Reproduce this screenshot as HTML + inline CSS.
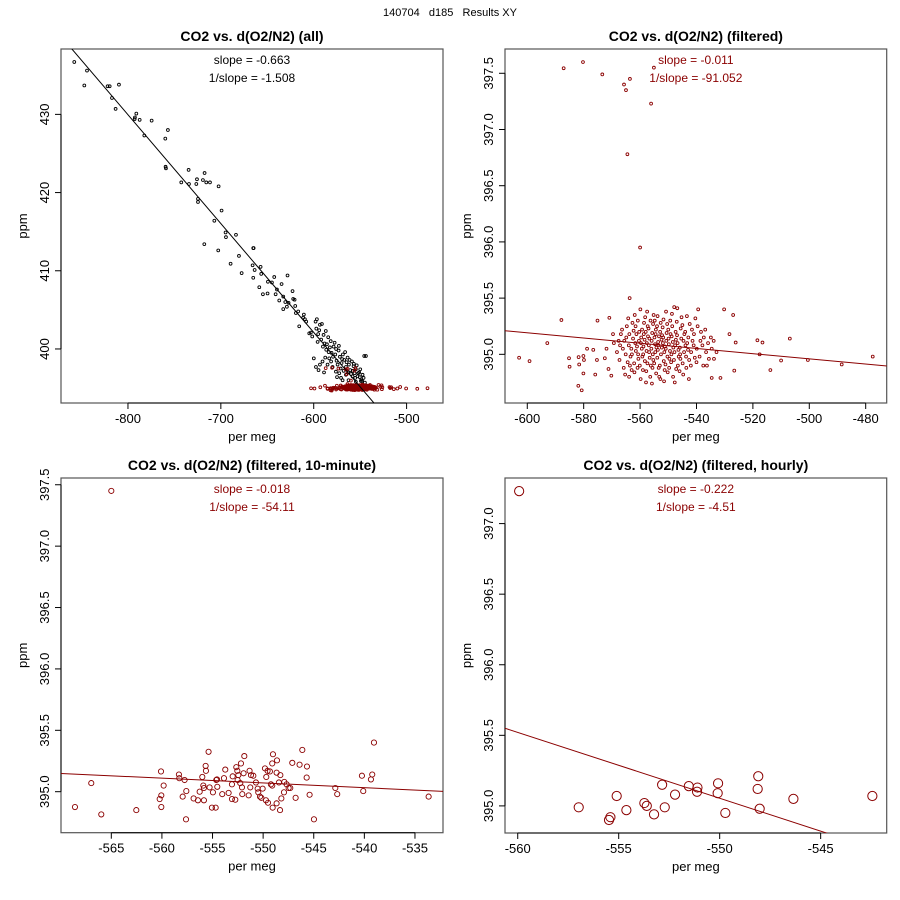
<!DOCTYPE html>
<html><head><meta charset="utf-8"><style>
body{margin:0;background:#fff}
svg{display:block;font-family:"Liberation Sans",sans-serif}
</style></head><body>
<svg id="c" width="900" height="900" viewBox="0 0 900 900">
<text x="450" y="16" text-anchor="middle" font-size="11" style="white-space:pre">140704   d185   Results XY</text>
</svg>
<script>
// ---------- data ----------
const filteredPts = [
[-587.1,397.545],[-580.25,397.6],[-573.4,397.49],[-565.7,397.40],[-565.0,397.35],[-563.6,397.45],[-555.1,397.55],[-556.1,397.23],[-564.5,396.78],[-560.0,395.95],[-563.7,395.5],
[-602.9,394.97],[-599.2,394.94],[-592.9,395.10],[-587.9,395.305],[-585.2,394.965],[-585.0,394.89],[-581.9,394.72],[-580.7,394.68],[-581.8,394.975],[-581.6,394.91],[-580.1,394.985],[-579.9,394.95],[-580.1,394.83],[-578.8,395.05],[-576.6,395.04],[-575.9,394.82],[-575.1,395.30],[-575.3,394.95],[-570.9,395.325],[-572.5,394.965],[-571.9,395.05],[-571.2,394.87],[-570.2,394.81],[-569.6,395.18],[-569.3,395.10],
[-530.2,395.40],[-527.0,395.35],[-528.3,395.18],[-526.6,394.855],[-526.1,395.105],[-518.4,395.125],[-517.6,395.0],[-516.6,395.105],[-513.8,394.86],[-510.0,394.945],[-506.9,395.14],[-500.5,394.95],[-488.5,394.91],[-477.5,394.98],[-531.5,394.79],[-534.6,394.79],[-536.3,394.9],[-533.8,394.96],
[-568.2,395.02],[-567.6,395.12],[-567.3,394.95],[-566.8,395.18],[-567.1,395.08],
[-566.4,395.22],[-565.8,394.88],[-566.1,395.05],[-565.6,395.12],
[-565.3,394.82],[-564.7,395.25],[-565.1,395.0],[-564.9,395.15],[-564.4,394.93],
[-564.2,395.32],[-563.6,394.9],[-564.0,395.08],[-563.8,395.18],[-563.4,394.98],[-563.9,394.8],
[-563.1,395.05],[-562.7,395.28],[-563.0,394.86],[-562.5,395.14],[-562.9,395.0],[-562.3,395.21],
[-562.1,394.92],[-561.7,395.1],[-561.9,395.35],[-561.5,395.03],[-562.0,394.84],[-561.3,395.18],[-561.6,395.25],
[-561.1,395.07],[-560.6,394.96],[-560.8,395.3],[-560.4,395.12],[-560.9,394.88],[-560.3,395.2],[-560.7,395.0],
[-559.9,395.4],[-559.6,395.15],[-560.1,394.9],[-559.4,395.05],[-559.8,394.78],[-559.3,395.22],[-559.7,395.1],[-559.2,394.98],
[-558.9,395.0],[-558.6,395.28],[-559.0,394.86],[-558.4,395.13],[-558.7,395.18],[-558.3,394.94],[-558.8,395.07],[-558.2,395.33],
[-557.9,394.75],[-557.6,395.1],[-558.0,395.2],[-557.4,394.92],[-557.7,395.03],[-557.3,395.25],[-557.8,394.85],[-557.2,395.16],[-557.5,395.38],
[-556.9,395.08],[-556.6,394.97],[-557.0,395.23],[-556.4,394.8],[-556.7,395.14],[-556.3,395.3],[-556.8,395.02],[-556.2,394.9],
[-555.9,395.12],[-555.6,394.88],[-556.0,395.05],[-555.4,395.27],[-555.7,395.19],[-555.3,394.95],[-555.8,394.74],[-555.2,395.35],[-555.5,395.0],
[-554.9,395.15],[-554.6,395.02],[-555.0,394.92],[-554.4,395.22],[-554.7,395.09],[-554.3,394.83],[-554.8,395.3],[-554.2,395.06],[-554.5,395.18],
[-553.9,394.97],[-553.6,395.11],[-554.0,395.25],[-553.4,394.88],[-553.7,395.04],[-553.3,395.16],[-553.8,395.34],[-553.2,394.8],[-553.5,395.08],
[-552.9,395.2],[-552.6,395.0],[-553.0,394.9],[-552.4,395.13],[-552.7,395.28],[-552.3,395.06],[-552.8,394.78],[-552.2,395.17],
[-551.9,395.1],[-551.6,394.94],[-552.0,395.24],[-551.4,395.02],[-551.7,395.31],[-551.3,394.86],[-551.8,395.15],[-551.2,395.07],[-551.5,394.76],
[-550.9,395.05],[-550.6,395.19],[-551.0,394.91],[-550.4,395.27],[-550.7,395.12],[-550.3,394.98],[-550.8,395.38],[-550.2,394.84],
[-549.9,395.14],[-549.6,394.96],[-550.0,395.22],[-549.4,395.03],[-549.7,394.88],[-549.3,395.3],[-549.8,395.09],[-549.2,395.18],
[-548.9,395.0],[-548.6,395.25],[-549.0,394.93],[-548.4,395.11],[-548.7,395.36],[-548.3,394.8],[-548.8,395.16],[-548.2,395.06],
[-547.9,395.42],[-547.6,395.08],[-548.0,394.95],[-547.4,395.2],[-547.7,394.75],[-547.3,395.13],[-547.8,395.02],[-547.2,394.87],
[-546.9,395.17],[-546.6,394.9],[-547.0,395.29],[-546.4,395.04],[-546.7,395.1],[-546.3,394.98],[-546.8,395.41],
[-545.9,395.06],[-545.6,395.23],[-546.0,394.85],[-545.4,395.14],[-545.7,394.96],[-545.3,395.33],[-545.8,395.0],
[-544.9,394.92],[-544.6,395.12],[-545.0,395.26],[-544.4,395.02],[-544.7,394.82],[-544.3,395.18],
[-543.9,395.08],[-543.6,394.88],[-544.0,395.2],[-543.4,395.34],[-543.7,394.98],[-543.3,395.1],
[-542.9,395.15],[-542.6,394.95],[-543.0,395.04],[-542.4,395.27],[-542.7,394.78],
[-541.9,395.02],[-541.6,395.22],[-542.0,394.9],[-541.4,395.12],
[-540.9,395.18],[-540.6,394.97],[-541.0,395.08],[-540.4,395.32],
[-539.9,395.05],[-539.6,395.25],[-540.0,394.93],[-539.4,395.4],
[-538.9,394.98],[-538.6,395.12],[-538.4,395.2],
[-537.9,395.08],[-537.6,394.9],[-537.4,395.15],
[-536.9,395.22],[-536.6,395.02],[-535.9,395.1],[-535.6,394.96],
[-534.9,395.15],[-534.6,395.05],[-533.9,395.12],[-532.9,395.02]
];
const unfilteredPts = [
[-857.8,436.7],[-847.0,433.7],[-844.1,435.6],[-821.9,433.6],[-819.7,433.6],[-817.2,432.1],[-809.7,433.8],[-813.3,430.7],[-792.5,429.6],[-791.0,430.1],[-792.8,429.4],[-787.4,429.3],[-774.5,429.2],[-782.4,427.3],[-759.8,426.9],[-757.0,428.0],[-759.5,423.3],[-759.1,423.1],[-742.6,421.3],[-734.7,422.9],[-734.3,421.1],[-726.4,421.1],[-725.7,421.7],[-724.6,419.2],[-724.6,418.8],[-719.3,421.6],[-717.5,422.5],[-715.7,421.3],[-711.7,421.3],[-702.4,420.8],[-699.2,417.7],[-707.0,416.4],[-717.8,413.4],[-702.8,412.6],[-694.5,414.3],[-694.9,414.9],[-683.7,414.6],[-689.5,410.9],[-680.5,411.9],[-677.6,409.7],[-665.1,412.9],[-664.7,412.9],[-665.8,410.7],[-663.6,410.1],[-665.1,409.1],[-658.6,407.9],[-657.2,410.5],[-656.5,409.6],[-654.7,407.0],[-649.7,407.1],[-649.3,408.6],[-645.0,408.5],[-642.5,409.2],[-641.0,407.0],[-639.6,407.6],[-637.1,406.2],[-634.6,408.3],[-632.8,405.1],[-632.8,406.7],[-630.6,406.0],[-628.9,405.4],[-628.2,409.4],[-627.1,405.9],[-622.8,407.4],[-622.1,406.4],[-620.6,406.3],[-619.9,405.5],[-619.2,404.6],[-616.7,404.8],[-615.6,402.9],[-611.3,404.0],[-610.6,404.4],[-609.5,403.8],[-608.1,403.5],[-604.8,402.0],[-603.1,402.1],[-601.6,401.6],[-599.9,398.8],[-598.0,403.5],[-596.6,403.8],[-595.2,401.9],[-593.3,403.1],[-591.2,403.2],[-592.0,401.2],[-590.1,400.3],
[-588.3,400.7],[-586.5,399.9],[-584.4,401.5],[-582.6,400.2],[-580.8,399.5],[-583.3,398.8],[-578.6,400.3],[-576.8,399.3],[-575.4,398.5],[-573.2,399.8],[-571.8,399.0],[-570.0,398.2],[-568.6,399.3],[-567.1,398.6],[-565.3,397.7],[-563.5,398.9],[-562.1,398.0],[-560.7,397.3],[-558.9,398.4],[-557.1,397.8],[-556.0,396.9],[-554.6,397.4],[-552.8,396.5],[-551.0,397.0],[-548.8,396.1],[-547.4,396.7],[-545.6,399.1],[-543.8,399.1],[-549.2,395.9],[-558.2,396.5],[-565.3,396.7],[-572.5,396.9],[-579.7,397.7],[-585.1,398.0],[-593.3,398.0],[-597.6,397.7],[-594.8,397.3],[-590.5,398.4],[-587.6,398.9],[-576.1,397.1],[-562.5,396.0],[-554.6,395.8],[-568.9,396.0],
[-597.2,402.6],[-595.8,400.9],[-594.1,402.4],[-589.4,401.8],[-587.0,402.3],[-585.8,400.6],[-583.9,399.6],[-581.7,401.0],[-579.2,399.0],[-577.5,400.8],[-575.9,400.0],[-574.3,398.0],[-572.9,400.4],[-571.0,397.5],[-569.4,398.7],[-567.8,397.2],[-566.2,399.6],[-564.6,398.3],[-563.0,397.0],[-561.4,398.6],[-559.8,396.8],[-558.0,397.2],[-556.8,398.1],[-555.3,396.3],[-553.7,397.9],[-552.1,396.9],[-550.4,396.4],[-549.9,397.4],[-547.9,395.9],[-546.3,396.3],[-544.9,395.7],[-570.6,396.3],[-574.9,396.4],[-581.3,398.4],[-588.9,397.0]
];
const tenMinPts = [
[-565,397.45],[-568.59,394.875],[-566.98,395.07],[-565.99,394.815],[-562.53,394.85],[-560.09,395.165],[-560.06,394.97],[-560.22,394.94],[-560.06,394.875],[-559.83,395.05],[-558.32,395.14],[-558.28,395.11],[-557.95,394.96],[-557.76,395.095],[-557.62,394.775],[-557.59,395.005],[-556.87,394.945],[-556.44,394.93],[-556.27,395.0],[-556.01,395.12],[-555.91,395.05],[-555.85,395.03],[-555.85,394.93],[-555.68,395.21],[-555.65,395.17],[-555.39,395.325],[-555.29,395.035],[-555.06,394.87],[-554.96,394.995],[-554.69,394.87],[-554.63,395.095],[-554.53,395.04],[-554.56,395.10],[-554.04,394.98],[-553.87,395.11],[-553.74,395.18],[-553.41,394.99],[-553.08,394.94],[-553.08,395.06],[-553.01,395.125],[-552.75,394.935],[-552.65,395.2],[-552.55,395.17],[-552.52,395.095],[-552.45,395.135],[-552.19,395.23],[-552.26,395.07],[-552.09,395.035],[-552.06,394.98],[-551.86,395.29],[-551.93,395.15],[-551.43,394.97],[-551.34,395.17],[-551.27,395.035],[-551.2,395.135],[-550.97,395.13],[-550.71,395.075],[-550.54,395.025],[-550.48,394.995],[-550.31,394.96],[-550.18,394.95],[-550.05,395.025],[-549.82,395.19],[-549.69,395.12],[-549.72,394.93],[-549.56,395.17],[-549.52,394.91],[-549.33,395.165],[-549.23,395.06],[-549.1,395.23],[-549.03,395.305],[-549.1,395.05],[-549.06,394.87],[-548.67,394.905],[-548.63,395.255],[-548.67,395.155],[-548.44,395.075],[-548.3,395.135],[-548.33,394.85],[-548.2,394.945],[-547.94,394.995],[-547.91,395.08],[-547.68,395.06],[-547.48,395.03],[-547.32,395.03],[-547.12,395.235],[-546.79,394.95],[-546.4,395.22],[-546.13,395.34],[-545.67,395.205],[-545.7,395.115],[-545.41,394.975],[-544.98,394.775],[-542.87,395.03],[-542.68,394.98],[-540.24,395.13],[-540.11,395.005],[-539.35,395.1],[-539.22,395.14],[-539.05,395.4],[-533.65,394.96]
];
const hourlyPts = [
[-559.93,397.23],[-556.98,394.99],[-555.48,394.90],[-555.41,394.92],[-555.10,395.07],[-554.62,394.97],[-553.73,395.02],[-553.61,395.00],[-553.25,394.94],[-552.85,395.15],[-552.72,394.99],[-552.21,395.08],[-551.53,395.14],[-551.10,395.13],[-551.12,395.10],[-550.08,395.16],[-550.10,395.09],[-549.72,394.95],[-548.09,395.21],[-548.12,395.12],[-548.02,394.98],[-546.35,395.05],[-542.44,395.07]
];
// fit lines (endpoints in data units)
const fitAllX = [-880,-500], fitAllY = [441.09,388.2];
const fitFiltX = [-620,-460], fitFiltY = [395.238,394.867];
const fit10X = [-575,-530], fit10Y = [395.168,394.994];
const fitHrX = [-562,-540], fitHrY = [395.614,394.588];
// tick labels
const p1XTicks = [-800,-700,-600,-500], p1YTicks = [400,410,420,430];
const p2XTicks = [-600,-580,-560,-540,-520,-500,-480], p2YTicks = [395.0,395.5,396.0,396.5,397.0,397.5];
const p3XTicks = [-565,-560,-555,-550,-545,-540,-535], p3YTicks = [395.0,395.5,396.0,396.5,397.0,397.5];
const p4XTicks = [-560,-555,-550,-545], p4YTicks = [395.0,395.5,396.0,396.5,397.0];
const slopeTexts = [["slope = -0.663","1/slope = -1.508"],["slope = -0.011","1/slope = -91.052"],["slope = -0.018","1/slope = -54.11"],["slope = -0.222","1/slope = -4.51"]];

// ---------- drawing ----------
const NS="http://www.w3.org/2000/svg";
const svg=document.getElementById('c');
function mk(tag,attrs,parent){const e=document.createElementNS(NS,tag);for(const k in attrs)e.setAttribute(k,attrs[k]);(parent||svg).appendChild(e);return e;}
const RED="#8b0000";

function panel(o){
  const g=mk('g',{});
  
  
  const [L,T,R,B]=o.box;
  const sx=v=>L+(v-o.xd[0])/(o.xd[1]-o.xd[0])*(R-L);
  const sy=v=>B-(v-o.yd[0])/(o.yd[1]-o.yd[0])*(B-T);
  const cid='clip-'+o.name;
  const cp=mk('clipPath',{id:cid},g);mk('rect',{x:L,y:T,width:R-L,height:B-T},cp);
  const t=mk('text',{x:(L+R)/2,y:T-8,'text-anchor':'middle','font-size':14,'font-weight':'bold'},g);
  t.textContent=o.title;
  
  
  const bx=mk('rect',{x:L,y:T,width:R-L,height:B-T,fill:'none',stroke:'#555','stroke-width':1.2},g);
  
  
  o.xt.forEach(v=>{const x=sx(v);
    mk('line',{x1:x,x2:x,y1:B,y2:B+6,stroke:'#000'},g);
    const tl=mk('text',{x:x,y:B+20,'text-anchor':'middle','font-size':13},g);tl.textContent=String(v);
    
    
  });
  mk('line',{x1:sx(o.xt[0]),x2:sx(o.xt[o.xt.length-1]),y1:B,y2:B,stroke:'#000'},g);
  o.yt.forEach(v=>{const y=sy(v);
    mk('line',{x1:L-6,x2:L,y1:y,y2:y,stroke:'#000'},g);
    const tl=mk('text',{x:L-12,y:y,'text-anchor':'middle','font-size':13,transform:`rotate(-90 ${L-12} ${y})`},g);
    tl.textContent=o.ydec?v.toFixed(1):String(v);
    
    
  });
  mk('line',{x1:L,x2:L,y1:sy(o.yt[0]),y2:sy(o.yt[o.yt.length-1]),stroke:'#000'},g);
  const xl=mk('text',{x:(L+R)/2,y:B+38,'text-anchor':'middle','font-size':13},g);xl.textContent='per meg';
  
  
  const yl=mk('text',{x:L-34,y:(T+B)/2,'text-anchor':'middle','font-size':13,transform:`rotate(-90 ${L-34} ${(T+B)/2})`},g);yl.textContent='ppm';
  
  
  const pg=mk('g',{'clip-path':`url(#${cid})`},g);
  o.series.forEach(s=>{
    s.pts.forEach(p=>{
      const c=mk('circle',{cx:sx(p[0]),cy:sy(p[1]),r:s.r,fill:'none',stroke:s.col,'stroke-width':s.w||0.9},pg);
      
      
    });
  });
  const ln=mk('line',{x1:sx(o.lx[0]),y1:sy(o.ly[0]),x2:sx(o.lx[1]),y2:sy(o.ly[1]),stroke:o.lcol,'stroke-width':1},pg);
  
  
  o.txt.forEach((s,i)=>{
    const st=mk('text',{x:(L+R)/2,y:T+15+i*18,'text-anchor':'middle','font-size':12,fill:o.tcol},g);st.textContent=s;
    
    
  });
}

panel({name:'panel-all',title:'CO2 vs. d(O2/N2) (all)',box:[61,49,443,403],xd:[-872.1,-460.8],yd:[393.09,438.36],xt:p1XTicks,yt:p1YTicks,ydec:false,
  series:[{pts:unfilteredPts,r:1.4,col:'#000'},{pts:filteredPts,r:1.4,col:RED}],lx:fitAllX,ly:fitAllY,lcol:'#000',txt:slopeTexts[0],tcol:'#000'});
panel({name:'panel-filtered',title:'CO2 vs. d(O2/N2) (filtered)',box:[505,49,886.7,403],xd:[-607.9,-472.55],yd:[394.567,397.716],xt:p2XTicks,yt:p2YTicks,ydec:true,
  series:[{pts:filteredPts,r:1.4,col:RED}],lx:fitFiltX,ly:fitFiltY,lcol:RED,txt:slopeTexts[1],tcol:RED});
panel({name:'panel-10-minute',title:'CO2 vs. d(O2/N2) (filtered, 10-minute)',box:[61,478,443,832.7],xd:[-569.97,-532.23],yd:[394.666,397.555],xt:p3XTicks,yt:p3YTicks,ydec:true,
  series:[{pts:tenMinPts,r:2.6,col:RED}],lx:fit10X,ly:fit10Y,lcol:RED,txt:slopeTexts[2],tcol:RED});
panel({name:'panel-hourly',title:'CO2 vs. d(O2/N2) (filtered, hourly)',box:[505,478,886.7,833],xd:[-560.63,-541.73],yd:[394.808,397.323],xt:p4XTicks,yt:p4YTicks,ydec:true,
  series:[{pts:hourlyPts,r:4.6,col:RED,w:1}],lx:fitHrX,ly:fitHrY,lcol:RED,txt:slopeTexts[3],tcol:RED});
</script>
</body></html>
